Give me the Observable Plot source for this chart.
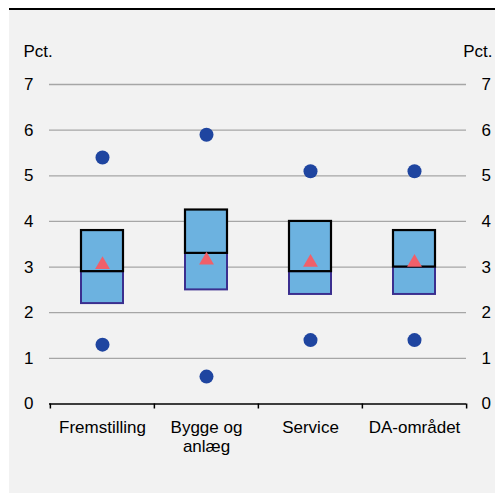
<!DOCTYPE html>
<html>
<head>
<meta charset="utf-8">
<script src="https://cdn.jsdelivr.net/npm/d3@7"></script>
<script src="https://cdn.jsdelivr.net/npm/@observablehq/plot@0.6"></script>
<style>
  html, body { margin: 0; padding: 0; background: #ffffff; }
  #panel { position: absolute; left: 9px; top: 9px; width: 486px; height: 484px;
           background: #f2f2f2; }
  #topline { position: absolute; left: 9px; top: 8px; width: 486px; height: 2px; background: #000; }
  #panel svg { display: block; }
</style>
</head>
<body>
<div id="panel"></div>
<div id="topline"></div>
<script>
const categories = ["Fremstilling", "Bygge og\nanlæg", "Service", "DA-området"];
const p25 = [2.2, 2.5, 2.4, 2.4];
const median = [2.9, 3.3, 2.9, 3.0];
const p75 = [3.8, 4.25, 4.0, 3.8];
const mean = [3.05, 3.15, 3.1, 3.1];
const maxVal = [5.4, 5.9, 5.1, 5.1];
const minVal = [1.3, 0.6, 1.4, 1.4];
const yTicks = [0, 1, 2, 3, 4, 5, 6, 7];

const rows = categories.map((c, i) => ({
  cat: c, p25: p25[i], med: median[i], p75: p75[i], mean: mean[i], max: maxVal[i], min: minVal[i]
}));

const font = "Liberation Sans, Arial, sans-serif";
const W = 486, H = 482.5;
const inset = 31;

const chart = Plot.plot({
  width: W,
  height: H,
  marginLeft: 40,
  marginRight: 29,
  marginTop: 75,
  marginBottom: 88,
  style: { background: "transparent", fontFamily: font, fontSize: "17px", color: "#000" },
  x: { domain: categories, padding: 0, axis: null },
  y: { domain: [0, 7], axis: null },
  marks: [
    Plot.gridY(yTicks.filter(d => d > 0), { stroke: "#a6a6a6", strokeOpacity: 1, strokeWidth: 1.3 }),
    Plot.axisY(yTicks, { anchor: "left", tickSize: 0, tickPadding: 16, fontSize: 17, label: null }),
    Plot.axisY(yTicks, { anchor: "right", tickSize: 0, tickPadding: 15, fontSize: 17, label: null }),
    Plot.text(["Pct."], { frameAnchor: "top-left", dx: -26, dy: -28, textAnchor: "start", fontSize: 17, lineAnchor: "bottom" }),
    Plot.text(["Pct."], { frameAnchor: "top-right", dx: 26, dy: -28, textAnchor: "end", fontSize: 17, lineAnchor: "bottom" }),
    // lower half of the box
    Plot.rectY(rows, { x: "cat", y1: "p25", y2: "med", fill: "#6cb2e0", stroke: "#3b2f8f", strokeWidth: 2, insetLeft: inset, insetRight: inset }),
    // upper half of the box
    Plot.rectY(rows, { x: "cat", y1: "med", y2: "p75", fill: "#6cb2e0", stroke: "#000000", strokeWidth: 2.2, insetLeft: inset, insetRight: inset }),
    Plot.dot(rows, { x: "cat", y: "max", r: 7, fill: "#1f45a0", stroke: "none" }),
    Plot.dot(rows, { x: "cat", y: "min", r: 7, fill: "#1f45a0", stroke: "none" }),
    Plot.dot(rows, { x: "cat", y: "mean", r: 5.5, symbol: "triangle", fill: "#f0606a", stroke: "none" }),
    Plot.ruleY([0], { stroke: "#000", strokeWidth: 1.5 }),
    Plot.axisX(categories, { ticks: categories, tickSize: 5, tickFormat: () => "", dx: -52.125, stroke: "#000", strokeWidth: 1.5, label: null }),
    Plot.axisX([categories[categories.length - 1]], { ticks: [categories[categories.length - 1]], tickSize: 5, tickFormat: () => "", dx: 52.125, stroke: "#000", strokeWidth: 1.5, label: null }),
    Plot.text(rows, { x: "cat", y: 0, text: "cat", dy: 16, lineAnchor: "top", lineHeight: 1.1, fontSize: 17, fill: "#000" })
  ]
});
document.getElementById("panel").appendChild(chart);
</script>
</body>
</html>
